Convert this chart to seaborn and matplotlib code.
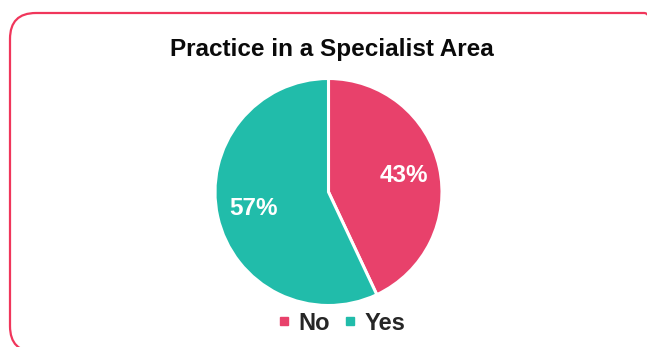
import matplotlib
matplotlib.use("Agg")
import matplotlib.pyplot as plt
from matplotlib.patches import FancyBboxPatch
from matplotlib.lines import Line2D
import seaborn as sns

# Survey answers
categories = ["No", "Yes"]
shares = [43, 57]
colors = ["#E8416B", "#21BCAA"]
title = "Practice in a Specialist Area"

sns.set_theme(style="white")
plt.rcParams["font.family"] = ["Liberation Sans", "DejaVu Sans"]

W, H = 647, 347
fig = plt.figure(figsize=(W / 100, H / 100), dpi=100)
fig.patch.set_facecolor("white")

# Rounded card border
card = FancyBboxPatch((10 / W, 1 - 352 / H), 660 / W, 339 / H,
                      boxstyle="round,pad=0,rounding_size=0.04",
                      transform=fig.transFigure, fill=False,
                      edgecolor="#F0365B", linewidth=1.6, mutation_aspect=W / H)
fig.add_artist(card)

fig.text(331.5 / W, 1 - 56 / H, title, ha="center", va="baseline",
         fontsize=17.5, fontweight="bold", color="#0A0A0A")

# Pie axes: centre (328.5, 192) px, radius 113.5 px
cx, cy, r = 328.5, 192, 113.5
ax = fig.add_axes([(cx - r) / W, (H - cy - r) / H, 2 * r / W, 2 * r / H])
wedges, texts, autotexts = ax.pie(
    shares, colors=colors, startangle=90, counterclock=False,
    autopct=lambda p: f"{p:.0f}%", pctdistance=0.68,
    wedgeprops=dict(edgecolor="white", linewidth=2.2),
    textprops=dict(color="white", fontsize=17.5, fontweight="bold"))
ax.set_xlim(-1, 1)
ax.set_ylim(-1, 1)
ax.set_aspect("equal")
ax.axis("off")

handles = [Line2D([], [], marker="s", linestyle="", markersize=6,
                  markerfacecolor=c, markeredgecolor=c) for c in colors]
fig.legend(handles, categories, loc="center", bbox_to_anchor=(341 / W, 1 - 323 / H),
           ncol=2, frameon=False, handlelength=0.6, handletextpad=0.3,
           columnspacing=0.55, prop=dict(size=17, weight="bold"))

fig.savefig("out.png", dpi=100, facecolor="white")
